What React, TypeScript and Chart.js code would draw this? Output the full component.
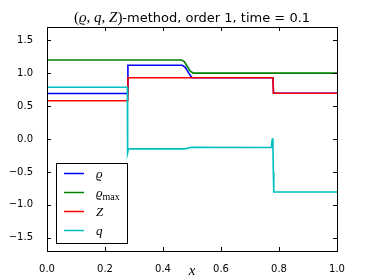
import React, { useEffect, useRef } from "react";
import { Chart, registerables } from "chart.js";

Chart.register(...registerables);

// Series data (x breakpoints and values)
const rhoX = [0, 0.277, 0.279, 0.466, 0.476, 0.485, 0.493, 0.5, 0.779, 0.781, 1.0];
const rhoY = [0.69, 0.69, 1.12, 1.12, 1.09, 1.03, 0.97, 0.93, 0.93, 0.695, 0.695];

const rhoMaxX = [0, 0.464, 0.474, 0.484, 0.494, 0.505, 1.0];
const rhoMaxY = [1.2, 1.2, 1.17, 1.1, 1.03, 1.0, 1.0];

const zX = [0, 0.277, 0.279, 0.779, 0.781, 1.0];
const zY = [0.58, 0.58, 0.93, 0.93, 0.695, 0.695];

const qX = [0, 0.277, 0.278, 0.281, 0.285, 0.475, 0.5, 0.774, 0.777, 0.779, 0.7805, 0.782, 1.0];
const qY = [0.785, 0.785, -0.21, -0.15, -0.15, -0.15, -0.125, -0.13, 0.01, -0.1, -0.5, -0.805, -0.805];

const xTicks = [0, 0.2, 0.4, 0.6, 0.8, 1.0];
const yTicks = [-1.5, -1.0, -0.5, 0.0, 0.5, 1.0, 1.5];

const BLUE = "#0000ff";
const GREEN = "#008000";
const RED = "#ff0000";
const CYAN = "#00bfbf";

const fmt = (v: number) => (v < 0 ? "\u2212" : "") + Math.abs(v).toFixed(1);
const pts = (xs: number[], ys: number[]) => xs.map((x, i) => ({ x, y: ys[i] }));

type Seg = { t: string; f: string; dy?: number };

function drawSegs(ctx: CanvasRenderingContext2D, segs: Seg[], x: number, y: number, align: "left" | "center") {
  let w = 0;
  for (const s of segs) {
    ctx.font = s.f;
    w += ctx.measureText(s.t).width;
  }
  let cx = align === "center" ? x - w / 2 : x;
  ctx.textAlign = "left";
  ctx.textBaseline = "alphabetic";
  for (const s of segs) {
    ctx.font = s.f;
    ctx.fillText(s.t, cx, y + (s.dy || 0));
    cx += ctx.measureText(s.t).width;
  }
}

const SERIF = '"Liberation Serif", serif';
const SANS = '"DejaVu Sans", sans-serif';

const decor = {
  id: "decor",
  afterDraw(chart: any) {
    const ctx: CanvasRenderingContext2D = chart.ctx;
    const a = chart.chartArea;
    const xs = chart.scales.x;
    const ys = chart.scales.y;
    ctx.save();
    // frame
    ctx.strokeStyle = "#000";
    ctx.lineWidth = 1;
    ctx.strokeRect(Math.round(a.left) + 0.5, Math.round(a.top) + 0.5, Math.round(a.right - a.left), Math.round(a.bottom - a.top));
    // inward ticks
    ctx.beginPath();
    for (const v of xTicks) {
      const px = Math.round(xs.getPixelForValue(v)) + 0.5;
      ctx.moveTo(px, a.bottom);
      ctx.lineTo(px, a.bottom - 4);
      ctx.moveTo(px, a.top);
      ctx.lineTo(px, a.top + 4);
    }
    for (const v of yTicks) {
      const py = Math.round(ys.getPixelForValue(v)) + 0.5;
      ctx.moveTo(a.left, py);
      ctx.lineTo(a.left + 4, py);
      ctx.moveTo(a.right, py);
      ctx.lineTo(a.right - 4, py);
    }
    ctx.stroke();

    // title
    ctx.fillStyle = "#000";
    const ts = 15;
    drawSegs(
      ctx,
      [
        { t: "(", f: `${ts}px ${SERIF}` },
        { t: "\u03f1", f: `italic ${ts}px ${SERIF}` },
        { t: ", ", f: `${ts}px ${SERIF}` },
        { t: "q", f: `italic ${ts}px ${SERIF}` },
        { t: ", ", f: `${ts}px ${SERIF}` },
        { t: "Z", f: `italic ${ts}px ${SERIF}` },
        { t: ")", f: `${ts}px ${SERIF}` },
        { t: "-method, order 1, time = 0.1", f: `13px ${SANS}` },
      ],
      (a.left + a.right) / 2,
      a.top - 5,
      "center"
    );
    // x label
    drawSegs(ctx, [{ t: "x", f: `italic 15px ${SERIF}` }], (a.left + a.right) / 2, 275, "center");

    // legend
    const lx = 56.5, ly = 163.5, lw = 71, lh = 80;
    ctx.fillStyle = "#fff";
    ctx.fillRect(lx, ly, lw, lh);
    ctx.strokeStyle = "#000";
    ctx.strokeRect(lx, ly, lw, lh);
    const entries: { c: string; segs: Seg[] }[] = [
      { c: BLUE, segs: [{ t: "\u03f1", f: `italic 13px ${SERIF}` }] },
      {
        c: GREEN,
        segs: [
          { t: "\u03f1", f: `italic 13px ${SERIF}` },
          { t: "max", f: `10px ${SERIF}`, dy: 3 },
        ],
      },
      { c: RED, segs: [{ t: "Z", f: `italic 13px ${SERIF}` }] },
      { c: CYAN, segs: [{ t: "q", f: `italic 13px ${SERIF}` }] },
    ];
    const rowY = [173.5, 192.5, 211.5, 230.5];
    entries.forEach((e, i) => {
      ctx.strokeStyle = e.c;
      ctx.lineWidth = 1.5;
      ctx.beginPath();
      ctx.moveTo(64, rowY[i]);
      ctx.lineTo(84, rowY[i]);
      ctx.stroke();
      ctx.fillStyle = "#000";
      drawSegs(ctx, e.segs, 96, rowY[i] + 4, "left");
    });
    ctx.restore();
  },
};

export default function App() {
  const ref = useRef<HTMLCanvasElement | null>(null);
  useEffect(() => {
    document.body.style.margin = "0";
    const canvas = ref.current!;
    const mk = (label: string, xs: number[], ys: number[], color: string, order: number) => ({
      label,
      data: pts(xs, ys),
      borderColor: color,
      backgroundColor: color,
      borderWidth: 1.6,
      pointRadius: 0,
      tension: 0,
      fill: false,
      order,
    });
    const chart = new Chart(canvas, {
      type: "line",
      data: {
        datasets: [
          mk("rho", rhoX, rhoY, BLUE, 3),
          mk("rho_max", rhoMaxX, rhoMaxY, GREEN, 2),
          mk("Z", zX, zY, RED, 1),
          mk("q", qX, qY, CYAN, 0),
        ],
      },
      options: {
        animation: false,
        responsive: false,
        maintainAspectRatio: false,
        layout: { padding: { top: 27, right: 37, left: 0, bottom: 0 } },
        plugins: { legend: { display: false }, title: { display: false }, tooltip: { enabled: false } },
        scales: {
          x: {
            type: "linear",
            min: 0,
            max: 1,
            grid: { display: false },
            border: { display: false },
            ticks: { color: "#000", font: { family: "DejaVu Sans", size: 10 }, padding: 4, callback: (v: any) => fmt(Number(v)), maxRotation: 0 },
            afterBuildTicks: (s: any) => {
              s.ticks = xTicks.map((v) => ({ value: v }));
            },
            afterFit: (s: any) => {
              s.height = 29;
            },
          },
          y: {
            type: "linear",
            min: -1.7,
            max: 1.7,
            grid: { display: false },
            border: { display: false },
            ticks: { color: "#000", font: { family: "DejaVu Sans", size: 10 }, padding: 6, callback: (v: any) => fmt(Number(v)) },
            afterBuildTicks: (s: any) => {
              s.ticks = yTicks.map((v) => ({ value: v }));
            },
            afterFit: (s: any) => {
              s.width = 47;
            },
          },
        },
      },
      plugins: [decor],
    } as any);
    return () => chart.destroy();
  }, []);
  return <canvas ref={ref} width={374} height={280} style={{ display: "block", width: 374, height: 280 }} />;
}
